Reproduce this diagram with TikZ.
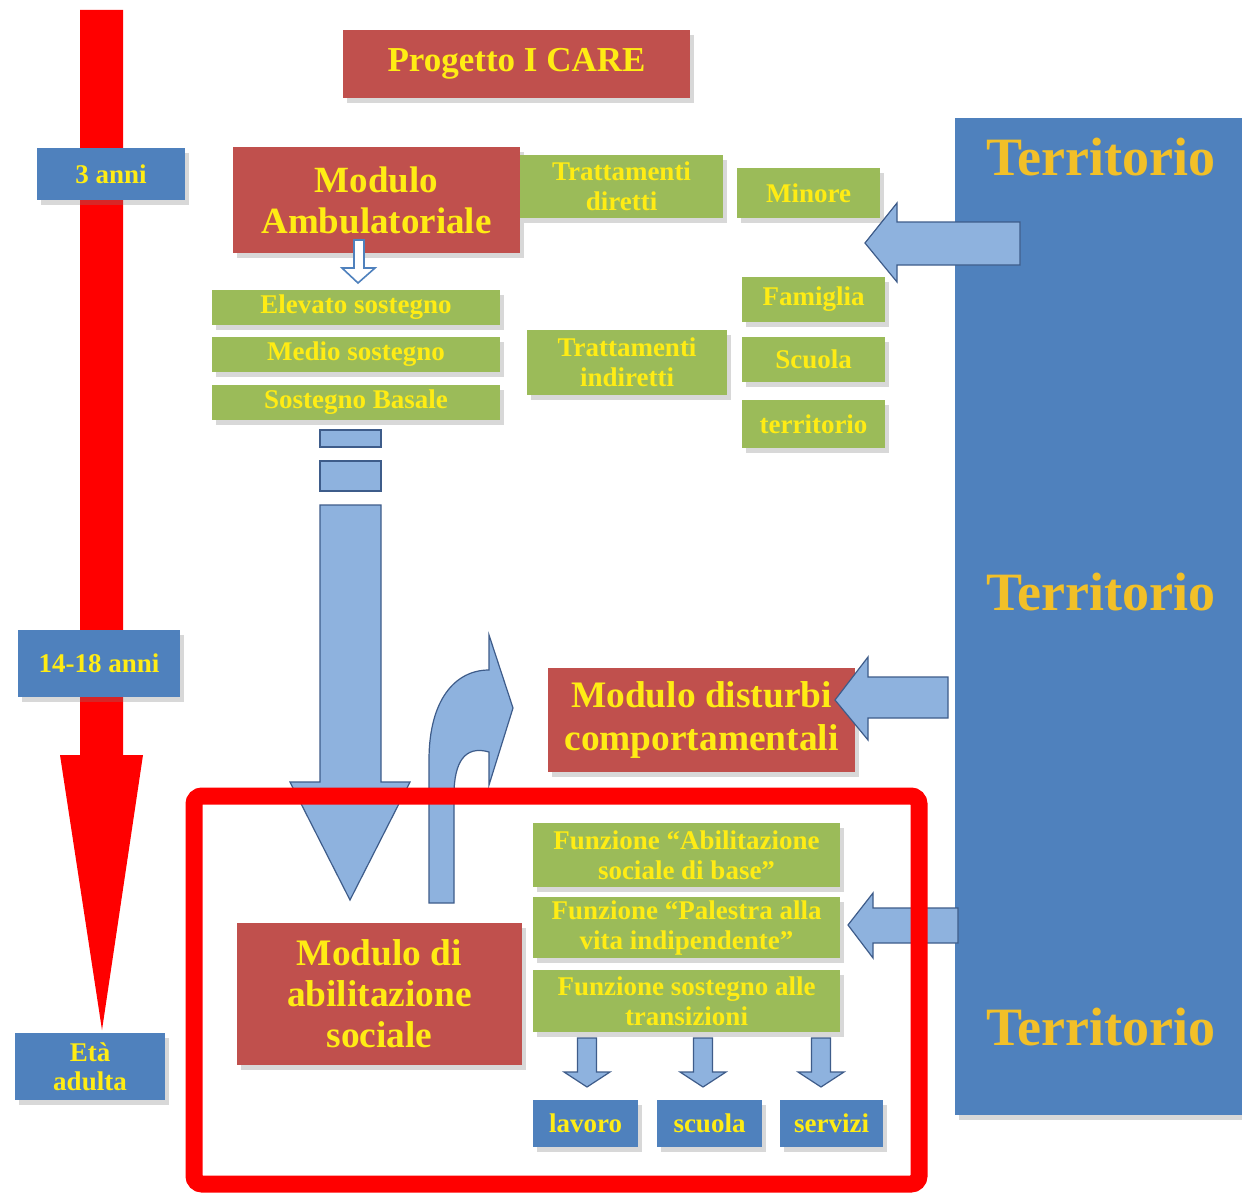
\documentclass[tikz,border=0pt]{standalone}
\usepackage{fontspec}
\setmainfont{Liberation Serif}
\usetikzlibrary{shadows}
\definecolor{rbox}{RGB}{192,80,77}
\definecolor{gbox}{RGB}{155,187,89}
\definecolor{bbox}{RGB}{79,129,189}
\definecolor{txty}{RGB}{255,236,20}
\definecolor{terrtxt}{RGB}{242,192,40}
\definecolor{abl}{RGB}{142,178,222}
\definecolor{aedge}{RGB}{62,92,138}
\definecolor{tline}{RGB}{255,0,0}
\tikzset{
  box/.style={inner sep=0pt, align=center, font=\bfseries, text=txty,
    drop shadow={shadow xshift=2pt, shadow yshift=-2.5pt, opacity=0.3}},
  redbox/.style={box, fill=rbox, font=\bfseries\fontsize{18.5}{20.5}\selectfont},
  greenbox/.style={box, fill=gbox, font=\bfseries\fontsize{13.5}{15}\selectfont},
  bluebox/.style={box, fill=bbox, font=\bfseries\fontsize{13.5}{15.5}\selectfont},
  blockarrow/.style={fill=abl, draw=aedge, line width=0.6pt, line join=miter},
  terr/.style={text=terrtxt, font=\bfseries\fontsize{27}{30}\selectfont, inner sep=0pt}
}
% style, name, x1, y1, x2, y2, text
\newcommand\bxnode[7]{%
  \node[#1, minimum width={(#5-#3)*0.5pt}, minimum height={(#6-#4)*0.5pt}]
    (#2) at ({(#3+#5)/2},{(#4+#6)/2}) {#7};}
\begin{document}
\begin{tikzpicture}[x=0.5pt,y=-0.5pt]
\useasboundingbox[fill=white] (0,0) rectangle (1242,1193);

% time line
\fill[tline] (80,10) -- (123,10) -- (123,755) -- (143,755) -- (102,1030) -- (60,755) -- (80,755) -- cycle;
\bxnode{bluebox}{a3}{37}{148}{185}{200}{3 anni}
\bxnode{bluebox}{a14}{18}{630}{180}{697}{14-18 anni}
\bxnode{bluebox}{adult}{15}{1033}{165}{1100}{Età\\[-1pt]adulta}

% territorio
\bxnode{box,fill=bbox}{terrbox}{955}{118}{1242}{1115}{}
\node[terr] (t1) at (1101,157) {Territorio};
\node[terr] (t2) at (1101,592) {Territorio};
\node[terr] (t3) at (1101,1027) {Territorio};

% title
\bxnode{redbox,font=\bfseries\fontsize{17.5}{20}\selectfont}{prog}{343}{30}{690}{98}{Progetto I CARE}

% ambulatoriale
\bxnode{redbox}{amb}{233}{147}{520}{253}{Modulo\\Ambulatoriale}
\bxnode{greenbox}{tdir}{520}{155}{723}{218}{Trattamenti\\diretti}
\bxnode{greenbox}{minore}{737}{168}{880}{218}{Minore}
\bxnode{greenbox}{elev}{212}{290}{500}{325}{Elevato sostegno}
\bxnode{greenbox}{medio}{212}{337}{500}{372}{Medio sostegno}
\bxnode{greenbox}{basale}{212}{385}{500}{420}{Sostegno Basale}
\bxnode{greenbox}{tind}{527}{330}{727}{395}{Trattamenti\\indiretti}
\bxnode{greenbox}{fam}{742}{277}{885}{322}{Famiglia}
\bxnode{greenbox}{scu}{742}{337}{885}{382}{Scuola}
\bxnode{greenbox}{terrb}{742}{400}{885}{448}{territorio}

% small hollow arrow
\draw[fill=white, draw=bbox, line width=0.8pt] (354,240) -- (364,240) -- (364,268) -- (375,268) -- (358,283) -- (342,268) -- (354,268) -- cycle;

% arrow from territorio (top)
\draw[blockarrow] (1020,222) -- (1020,265) -- (897,265) -- (897,282) -- (865,243) -- (897,203) -- (897,222) -- cycle;

% big down arrow
\draw[blockarrow] (320,430) rectangle (381,447);
\draw[blockarrow] (320,461) rectangle (381,491);
\draw[blockarrow] (320,505) -- (381,505) -- (381,782) -- (410,782) -- (350,900) -- (290,782) -- (320,782) -- cycle;

% curved arrow
\draw[blockarrow] (429,903) -- (429,760) .. controls (429,700) and (455,670) .. (489,670)
  -- (489,635) -- (513,708) -- (489,785) -- (489,752)
  .. controls (465,745) and (454,762) .. (454,795) -- (454,903) -- cycle;

% disturbi
\bxnode{redbox,font=\bfseries\fontsize{18.7}{21.5}\selectfont}{dist}{548}{668}{855}{772}{Modulo disturbi\\comportamentali}
\draw[blockarrow] (948,677) -- (948,718) -- (868,718) -- (868,740) -- (835,700) -- (868,657) -- (868,677) -- cycle;

% abilitazione
\bxnode{redbox,font=\bfseries\fontsize{18.7}{20.5}\selectfont}{abil}{237}{923}{522}{1065}{Modulo di\\abilitazione\\sociale}
\bxnode{greenbox}{f1}{533}{823}{840}{887}{Funzione “Abilitazione\\sociale di base”}
\bxnode{greenbox}{f2}{533}{897}{840}{958}{Funzione “Palestra alla\\vita indipendente”}
\bxnode{greenbox}{f3}{533}{970}{840}{1032}{Funzione sostegno alle\\transizioni}
\draw[blockarrow] (958,908) -- (958,943) -- (873,943) -- (873,958) -- (848,925) -- (873,893) -- (873,908) -- cycle;

% small down arrows
\foreach \cx in {587,703,821}{
  \draw[blockarrow] (\cx-9.5,1038) -- (\cx+9.5,1038) -- (\cx+9.5,1072) -- (\cx+23,1072) -- (\cx,1087) -- (\cx-23,1072) -- (\cx-9.5,1072) -- cycle;
}
\bxnode{bluebox}{lav}{533}{1100}{638}{1147}{lavoro}
\bxnode{bluebox}{scuo}{657}{1100}{762}{1147}{scuola}
\bxnode{bluebox}{serv}{780}{1100}{883}{1147}{servizi}

% highlight frame
\draw[tline, line width=8.5pt, rounded corners=4pt] (194,796) rectangle (919,1184);
\end{tikzpicture}
\end{document}
